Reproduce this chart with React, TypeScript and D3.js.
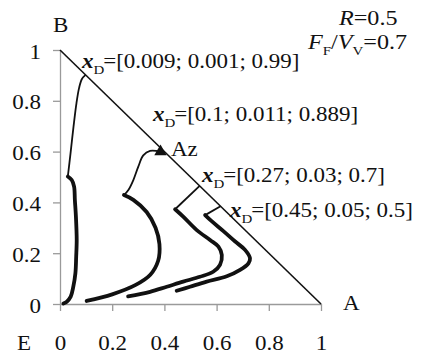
import { useRef, useEffect } from "react";
import { select, scaleLinear, axisLeft, axisBottom, line, curveCatmullRom, symbol, symbolTriangle } from "d3";

const tickValues = [0, 0.2, 0.4, 0.6, 0.8, 1];

// residue curves, [x_A, x_B]; thin part = rectifying, bold part = stripping
const curve1Thin = [[0.098, 0.902], [0.084, 0.886], [0.073, 0.85], [0.063, 0.79], [0.052, 0.7], [0.04, 0.59], [0.03, 0.502]];
const curve1Bold = [[0.03, 0.502], [0.045, 0.488], [0.054, 0.462], [0.057, 0.409], [0.061, 0.344], [0.064, 0.252], [0.062, 0.186], [0.059, 0.121], [0.051, 0.068], [0.041, 0.029], [0.026, 0.009], [0.013, 0.002]];

const curve2Thin = [[0.385, 0.6], [0.345, 0.603], [0.319, 0.585], [0.3, 0.541], [0.281, 0.488], [0.262, 0.449], [0.245, 0.429]];
const curve2Bold = [[0.245, 0.429], [0.281, 0.41], [0.332, 0.362], [0.366, 0.3], [0.381, 0.236], [0.376, 0.17], [0.346, 0.115], [0.29, 0.075], [0.2, 0.038], [0.102, 0.012]];

const curve3Thin = [[0.535, 0.465], [0.441, 0.373]];
const curve3Bold = [[0.441, 0.373], [0.472, 0.344], [0.524, 0.291], [0.575, 0.252], [0.607, 0.226], [0.62, 0.193], [0.613, 0.154], [0.587, 0.127], [0.536, 0.107], [0.472, 0.088], [0.409, 0.068], [0.345, 0.048], [0.261, 0.03]];

const curve4Thin = [[0.615, 0.385], [0.556, 0.35]];
const curve4Bold = [[0.556, 0.35], [0.581, 0.326], [0.626, 0.287], [0.67, 0.247], [0.709, 0.213], [0.728, 0.18], [0.722, 0.16], [0.69, 0.134], [0.639, 0.109], [0.562, 0.088], [0.498, 0.068], [0.447, 0.052]];

const azeotrope = [0.385, 0.6];

const xdLabels = ["[0.009; 0.001; 0.99]", "[0.1; 0.011; 0.889]", "[0.27; 0.03; 0.7]", "[0.45; 0.05; 0.5]"];
const xdAnchors = [[82, 68], [153, 121], [202, 182], [230, 217]];

const FONT = "'Times New Roman'";
const STRETCH = "scale(1.15,1)";

export default function App() {
  const svgRef = useRef(null);

  useEffect(() => {
    const svg = select(svgRef.current);
    svg.selectAll("*").remove();

    const x = scaleLinear().domain([0, 1]).range([60, 321]);
    const y = scaleLinear().domain([0, 1]).range([304, 50]);

    // axes
    const yAxis = axisLeft(y).tickValues(tickValues).tickFormat((d) => String(d)).tickSize(7).tickSizeOuter(0);
    const gy = svg.append("g").attr("transform", `translate(${x(0)},0)`).call(yAxis);
    const xAxis = axisBottom(x).tickValues(tickValues).tickFormat((d) => String(d)).tickSize(7).tickSizeOuter(0);
    const gx = svg.append("g").attr("transform", `translate(0,${y(0)})`).call(xAxis);

    [gx, gy].forEach((g) => {
      g.attr("font-family", FONT).attr("font-size", 20);
      g.selectAll("path, line").attr("stroke", "#9a9a9a").attr("stroke-width", 1.3);
      g.selectAll("text").attr("fill", "#111");
    });
    gy.selectAll("text").attr("x", null).attr("dy", "0.4em").attr("transform", `translate(-19,0) ${STRETCH}`);
    gx.selectAll("text").attr("y", 32).attr("dy", "0.71em").attr("transform", STRETCH);

    // triangle side
    svg.append("line")
      .attr("x1", x(0)).attr("y1", y(1)).attr("x2", x(1)).attr("y2", y(0))
      .attr("stroke", "#111").attr("stroke-width", 1.6);

    const path = line().x((d) => x(d[0])).y((d) => y(d[1])).curve(curveCatmullRom);
    [curve1Thin, curve2Thin, curve3Thin, curve4Thin].forEach((c) => {
      svg.append("path").attr("d", path(c)).attr("fill", "none").attr("stroke", "#111").attr("stroke-width", 1.8);
    });
    [curve1Bold, curve2Bold, curve3Bold, curve4Bold].forEach((c) => {
      svg.append("path").attr("d", path(c)).attr("fill", "none").attr("stroke", "#111")
        .attr("stroke-width", 3.8).attr("stroke-linecap", "round").attr("stroke-linejoin", "round");
    });

    svg.append("path")
      .attr("d", symbol(symbolTriangle, 66)())
      .attr("transform", `translate(${x(azeotrope[0])},${y(azeotrope[1])})`)
      .attr("fill", "#111");

    const txt = (px, py, size = 20) =>
      svg.append("text")
        .attr("transform", `translate(${px},${py}) ${STRETCH}`)
        .attr("font-family", FONT).attr("font-size", size).attr("fill", "#111");

    txt(53, 32).text("B");
    txt(343, 310).text("A");
    txt(17, 350).text("E");
    txt(171, 156).text("Az");

    xdLabels.forEach((label, i) => {
      const t = txt(xdAnchors[i][0], xdAnchors[i][1]);
      t.append("tspan").attr("font-weight", "bold").attr("font-style", "italic").text("x");
      t.append("tspan").attr("font-size", 13).attr("dy", 6).text("D");
      t.append("tspan").attr("dy", -6).attr("dx", -1).text("=" + label);
    });

    const r = txt(339, 25, 21);
    r.append("tspan").attr("font-style", "italic").text("R");
    r.append("tspan").text("=0.5");

    const f = txt(308, 49, 21);
    f.append("tspan").attr("font-style", "italic").text("F");
    f.append("tspan").attr("font-size", 13).attr("dy", 6).text("F");
    f.append("tspan").attr("dy", -6).text("/");
    f.append("tspan").attr("font-style", "italic").text("V");
    f.append("tspan").attr("font-size", 13).attr("dy", 6).text("V");
    f.append("tspan").attr("dy", -6).text("=0.7");
  }, []);

  return (
    <svg
      ref={svgRef}
      width={428}
      height={356}
      style={{ position: "absolute", left: 0, top: 0, background: "#fff" }}
    />
  );
}
